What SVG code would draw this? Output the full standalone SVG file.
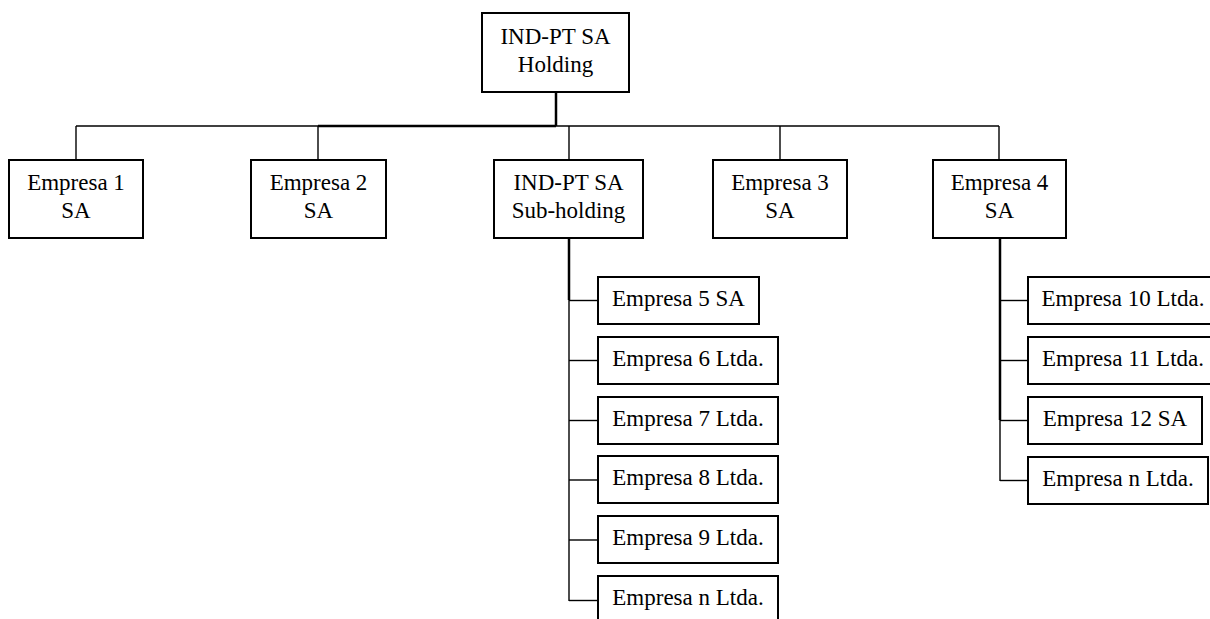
<svg xmlns="http://www.w3.org/2000/svg" width="1210" height="619" viewBox="0 0 1210 619">
<style>
rect{fill:#fff;stroke:#000;stroke-width:2}
text{font-family:"Liberation Serif","Times New Roman",serif;font-size:23px;fill:#000;text-anchor:middle}
.c line{stroke:#000;stroke-width:1.4}
.c .t{stroke-width:2.5}
</style>
<rect x="0" y="0" width="1210" height="619" style="fill:#fff;stroke:none"/>
<g class="c" id="connectors">
<line class="t" x1="556" y1="92" x2="556" y2="126"/>
<line class="t" x1="318" y1="126" x2="556" y2="126"/>
<line x1="76" y1="126" x2="318" y2="126"/>
<line x1="556" y1="126" x2="999" y2="126"/>
<line x1="76" y1="126" x2="76" y2="160"/>
<line x1="318" y1="126" x2="318" y2="160"/>
<line x1="569" y1="126" x2="569" y2="160"/>
<line x1="780" y1="126" x2="780" y2="160"/>
<line x1="999" y1="126" x2="999" y2="160"/>
<line class="t" x1="569" y1="238" x2="569" y2="300"/>
<line x1="569" y1="300" x2="569" y2="601"/>
<line x1="569" y1="300.5" x2="598" y2="300.5"/>
<line x1="569" y1="360.5" x2="598" y2="360.5"/>
<line x1="569" y1="420.5" x2="598" y2="420.5"/>
<line x1="569" y1="480" x2="598" y2="480"/>
<line x1="569" y1="540" x2="598" y2="540"/>
<line x1="569" y1="600.5" x2="598" y2="600.5"/>
<line class="t" x1="1000" y1="238" x2="1000" y2="420"/>
<line x1="1000" y1="420" x2="1000" y2="481"/>
<line x1="1000" y1="300.5" x2="1028" y2="300.5"/>
<line x1="1000" y1="360.5" x2="1028" y2="360.5"/>
<line x1="1000" y1="420.5" x2="1028" y2="420.5"/>
<line x1="1000" y1="480.5" x2="1028" y2="480.5"/>
</g>
<g id="holding"><rect x="482" y="13" width="147" height="79"/><text x="555.5" y="44">IND-PT SA</text><text x="555.5" y="72">Holding</text></g>
<g id="empresa1"><rect x="9" y="160" width="134" height="78"/><text x="76" y="190">Empresa 1</text><text x="76" y="218">SA</text></g>
<g id="empresa2"><rect x="251" y="160" width="135" height="78"/><text x="318.5" y="190">Empresa 2</text><text x="318.5" y="218">SA</text></g>
<g id="subholding"><rect x="494" y="160" width="149" height="78"/><text x="568.5" y="190">IND-PT SA</text><text x="568.5" y="218">Sub-holding</text></g>
<g id="empresa3"><rect x="713" y="160" width="134" height="78"/><text x="780" y="190">Empresa 3</text><text x="780" y="218">SA</text></g>
<g id="empresa4"><rect x="933" y="160" width="133" height="78"/><text x="999.5" y="190">Empresa 4</text><text x="999.5" y="218">SA</text></g>
<g id="empresa5"><rect x="598" y="277" width="161" height="47"/><text x="678.5" y="306">Empresa 5 SA</text></g>
<g id="empresa6"><rect x="598" y="337" width="180" height="47"/><text x="688" y="366">Empresa 6 Ltda.</text></g>
<g id="empresa7"><rect x="598" y="397" width="180" height="47"/><text x="688" y="426">Empresa 7 Ltda.</text></g>
<g id="empresa8"><rect x="598" y="456" width="180" height="47"/><text x="688" y="485">Empresa 8 Ltda.</text></g>
<g id="empresa9"><rect x="598" y="516" width="180" height="47"/><text x="688" y="545">Empresa 9 Ltda.</text></g>
<g id="empresaN1"><rect x="598" y="576" width="180" height="47"/><text x="688" y="605">Empresa n Ltda.</text></g>
<g id="empresa10"><rect x="1028" y="277" width="190" height="47"/><text x="1123" y="306">Empresa 10 Ltda.</text></g>
<g id="empresa11"><rect x="1028" y="337" width="190" height="47"/><text x="1123" y="366">Empresa 11 Ltda.</text></g>
<g id="empresa12"><rect x="1028" y="397" width="174" height="47"/><text x="1115" y="426">Empresa 12 SA</text></g>
<g id="empresaN2"><rect x="1028" y="457" width="180" height="47"/><text x="1118" y="486">Empresa n Ltda.</text></g>
</svg>
